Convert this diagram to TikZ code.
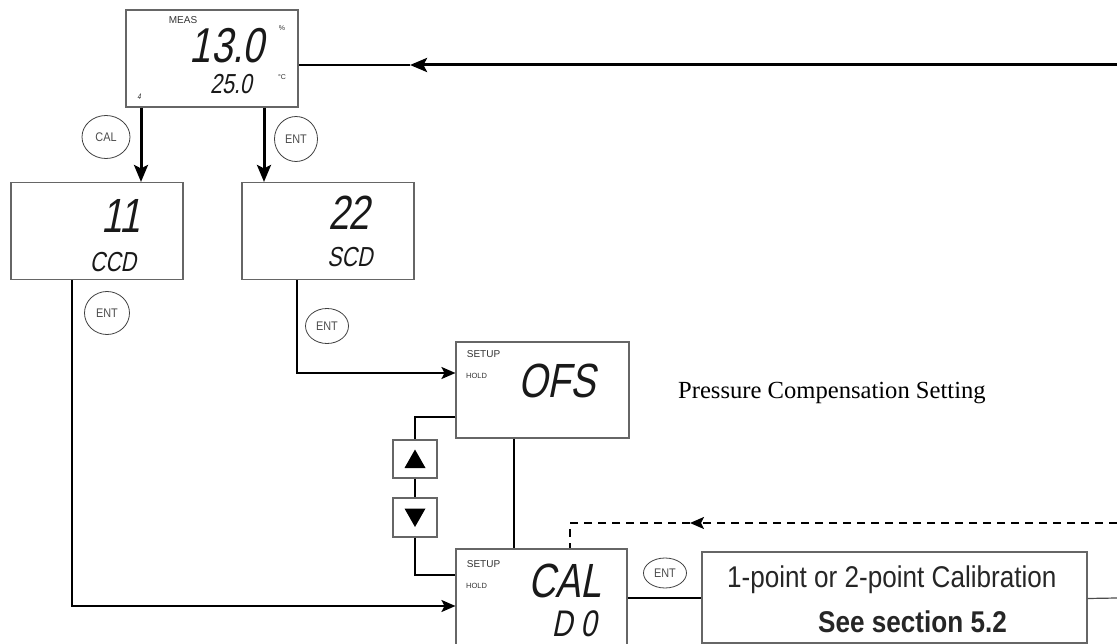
\documentclass[tikz,border=0pt]{standalone}
\usepackage{fontspec}
\setmainfont{Liberation Serif}
\newfontfamily\lcdfont{Liberation Sans}[FakeSlant=0.2,FakeStretch=0.78]
\newfontfamily\narrowfont{Liberation Sans}[FakeStretch=0.87]
\newfontfamily\tagfont{Liberation Sans}
\usetikzlibrary{arrows.meta,shapes.geometric,positioning,calc}

\begin{document}
\begin{tikzpicture}[x=1pt,y=-1pt,
  lcd/.style={draw=black!60,line width=1.1pt,minimum width=172pt,minimum height=97pt,inner sep=0pt},
  keybox/.style={draw=black!60,line width=1.1pt,minimum width=44pt,minimum height=38pt,inner sep=0pt},
  btn/.style={draw=black!75,ellipse,line width=0.8pt,inner sep=0pt,text=black!70,font=\narrowfont\fontsize{12.5}{12.5}\selectfont},
  digits/.style={inner sep=0pt,text=black!90,font=\lcdfont\fontsize{#1}{#1}\selectfont},
  tag/.style={inner sep=0pt,text=black!80,font=\tagfont\fontsize{#1}{#1}\selectfont},
  link/.style={line width=2pt},
  arr/.style={line width=2pt,-{Stealth[length=14pt,width=12pt,inset=3pt]}},
  arrthick/.style={line width=3pt,-{Stealth[length=17pt,width=14pt,inset=3.5pt]}}]
\useasboundingbox (0,0) rectangle (1117,644);
% Display boxes
\node[lcd] (meas) at (212,58.5) {};
\node[lcd] (ccd) at (97,231) {};
\node[lcd] (scd) at (328,231) {};
\node[lcd,minimum width=173pt,minimum height=96pt] (ofs) at (542.5,390) {};
\node[lcd,minimum width=171pt,minimum height=96pt] (cal) at (541.5,597) {};
\node[draw=black!60,line width=1.1pt,minimum width=385pt,minimum height=91pt] (calib) at (894.5,597.5) {};
% Arrow keys
\node[keybox] (up) at (415,459) {};
\node[keybox,minimum height=39pt] (down) at (415,517.5) {};
\foreach \k/\s in {up/1,down/-1} {
  \fill ($(\k.center)+(-10.5,9*\s)$) -- ($(\k.center)+(10.5,9*\s)$) -- ($(\k.center)+(0,-9.5*\s)$) -- cycle;
}
% Display texts
\node[tag=10] (meastag) at (183,20) {MEAS};
\node[digits=49] (measval) at (227,46) {13.0};
\node[tag=7] (pct) at (282,28) {\%};
\node[digits=27.5] (meastemp) at (231,84) {25.0};
\node[tag=7] (degc) at (282,77) {°C};
\node[digits=8] (measfour) at (139,97) {4};
\node[digits=48] (ccdval) at (121,215.5) {11};
\node[digits=27.5] (ccdtxt) at (113,262) {CCD};
\node[digits=48] (scdval) at (349,212.5) {22};
\node[digits=27.5] (scdtxt) at (350,257) {SCD};
\foreach \b/\dy in {ofs/354,cal/564} {
  \node[tag=10] (\b setup) at (483.5,\dy) {SETUP};
  \node[tag=7.5] (\b hold) at (476.5,\dy+21.5) {HOLD};
}
\node[digits=48] (ofstxt) at (557,380.5) {OFS};
\node[digits=48] (caltxt) at (565,580.5) {CAL};
\node[digits=37] (calval) at (574,623.5) {D 0};
% Buttons
\node[btn,minimum width=48pt,minimum height=43pt] (calbtn) at (106,137) {CAL};
\node[btn,minimum width=43pt,minimum height=45pt] (entA) at (296,139) {ENT};
\node[btn,minimum width=45pt,minimum height=43pt] (entB) at (107,313) {ENT};
\node[btn,minimum width=43pt,minimum height=35pt] (entC) at (327,326) {ENT};
\node[btn,minimum width=43pt,minimum height=30pt] (entD) at (665,573) {ENT};
% Side labels
\node[anchor=base west,inner sep=0pt,font=\fontsize{24.6}{24.6}\selectfont] (press) at (678,399) {Pressure Compensation Setting};
\node[anchor=base west,inner sep=0pt,text=black!85,font=\narrowfont\fontsize{30}{30}\selectfont] (calibA) at (727,587) {1-point or 2-point Calibration};
\node[anchor=base west,inner sep=0pt,text=black!85,font=\narrowfont\bfseries\fontsize{30}{30}\selectfont] (calibB) at (818,632) {See section 5.2};
% Connectors
\coordinate (topin) at (1117,65);
\coordinate (toptip) at (410,65);
\draw[arrthick] (topin) -- (toptip);
\draw[link] (toptip) -- (meas.east |- toptip);
\draw[arrthick] ([xshift=-71pt]meas.south) -- ([xshift=44pt]ccd.north);
\draw[arrthick] ([xshift=52pt]meas.south) -- ([xshift=-64pt]scd.north);
\draw[arr] ([xshift=-25pt]ccd.south) |- ([yshift=-9pt]cal.west);
\draw[arr] ([xshift=-31pt]scd.south) |- ([yshift=17pt]ofs.west);
\draw[link] ([yshift=-27pt]ofs.west) -| (up.north);
\draw[link] (up.south) -- (down.north);
\draw[link] (down.south) |- ([yshift=22pt]cal.west);
\draw[link] ([xshift=-29pt]ofs.south) -- ([xshift=-28pt]cal.north);
% Return path (dashed)
\coordinate (dashin) at (1117,523);
\coordinate (dashtip) at (690,523);
\draw[arr,dash pattern=on 8pt off 6pt] (dashin) -- (dashtip);
\draw[link,dash pattern=on 8pt off 6pt] (dashtip) -| ([xshift=28.5pt]cal.north);
\coordinate (calout) at (1117,598);
\draw[link] ([yshift=-1pt]cal.east) -- ([yshift=-1pt]cal.east -| calib.west);
\draw[line width=1.2pt,black!70] ([yshift=-1pt]calib.east) -- (calout);
\end{tikzpicture}
\end{document}
